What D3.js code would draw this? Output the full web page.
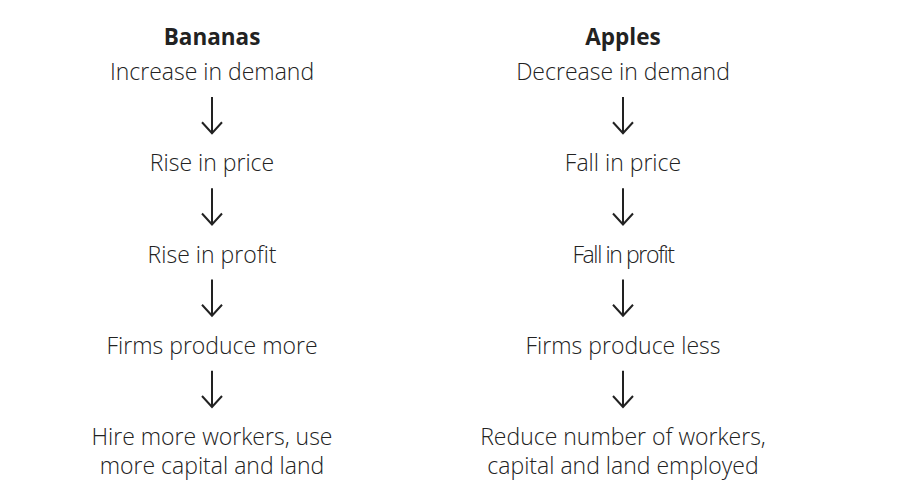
<!DOCTYPE html>
<html><head><meta charset="utf-8">
<script src="https://cdn.jsdelivr.net/npm/d3@7"></script>
<style>
html,body{margin:0;padding:0;background:#fff;}
svg{display:block;}
</style></head>
<body>
<svg id="chart" width="900" height="499"></svg>
<script>
const columns = ["Bananas", "Apples"];
const bananaSteps = ["Increase in demand", "Rise in price", "Rise in profit", "Firms produce more", "Hire more workers, use|more capital and land"];
const appleSteps = ["Decrease in demand", "Fall in price", "Fall in profit", "Firms produce less", "Reduce number of workers,|capital and land employed"];
const stepIndex = [0, 1, 2, 3, 4];

const svg = d3.select("#chart");
const x = d3.scalePoint().domain(columns).range([212, 623]);
const y = d3.scaleLinear().domain([0, 4]).range([72, 437]);
const font = "'Open Sans', sans-serif";
const ink = "#222";
const condensed = "Fall in profit";

const data = [
  {name: "Bananas", steps: bananaSteps},
  {name: "Apples", steps: appleSteps}
];

const col = svg.selectAll("g.col").data(data).join("g").attr("class", "col")
  .attr("transform", d => `translate(${x(d.name)},0)`);

col.append("text")
  .attr("y", 37).attr("dy", "0.35em")
  .attr("text-anchor", "middle")
  .attr("font-family", font).attr("font-weight", 700).attr("font-size", 22.5)
  .attr("fill", ink)
  .text(d => d.name);

col.each(function(d) {
  const g = d3.select(this);
  d.steps.forEach((s, i) => {
    const lines = s.split("|");
    const t = g.append("text")
      .attr("text-anchor", "middle")
      .attr("font-family", font).attr("font-weight", 300).attr("font-size", 23)
      .attr("fill", ink)
      .attr("letter-spacing", s === condensed ? -1.4 : 0);
    lines.forEach((ln, j) => {
      t.append("tspan").attr("x", 0).attr("y", y(i) + j * 29).attr("dy", "0.35em").text(ln);
    });
    if (i < d.steps.length - 1) {
      const y0 = y(i) + 25, y1 = y(i + 1) - 30;
      g.append("line").attr("x1", 0).attr("x2", 0).attr("y1", y0).attr("y2", y1)
        .attr("stroke", ink).attr("stroke-width", 2);
      g.append("path").attr("d", `M-10,${y1 - 11} L0,${y1} L10,${y1 - 11}`)
        .attr("fill", "none").attr("stroke", ink).attr("stroke-width", 2);
    }
  });
});
</script>
</body></html>
